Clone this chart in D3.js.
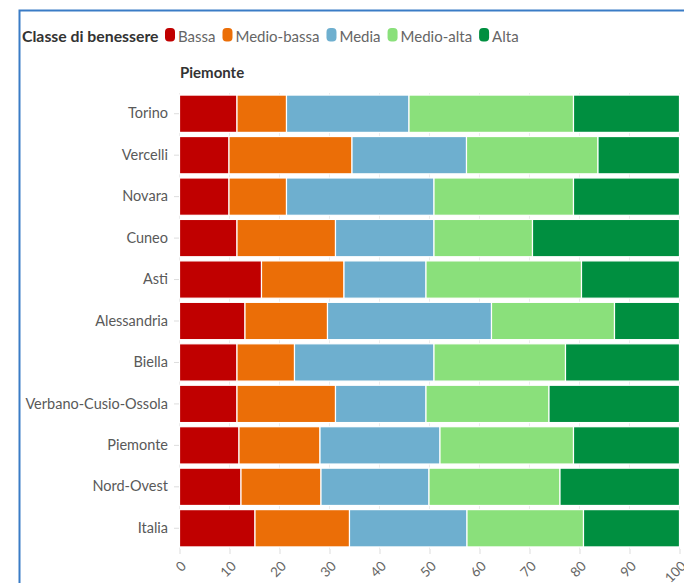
<!doctype html>
<html>
<head>
<meta charset="utf-8">
<script src="https://cdn.jsdelivr.net/npm/d3@7/dist/d3.min.js"></script>
<style>
  body { margin: 0; background: #fff; }
  svg { display: block; font-family: "Lato", "Noto Sans", sans-serif; }
</style>
</head>
<body>
<div id="viz"></div>
<script>
// data (percent of households per wellbeing class)
const categories = ["Torino", "Vercelli", "Novara", "Cuneo", "Asti", "Alessandria", "Biella",
  "Verbano-Cusio-Ossola", "Piemonte", "Nord-Ovest", "Italia"];
const classes = ["Bassa", "Medio-bassa", "Media", "Medio-alta", "Alta"];
const bassa      = [11.5,  9.9,  9.9, 11.5, 16.4, 13.1, 11.5, 11.5, 11.9, 12.3, 15.1];
const medioBassa = [ 9.9, 24.6, 11.5, 19.7, 16.5, 16.5, 11.5, 19.7, 16.2, 16.0, 18.9];
const media      = [24.5, 22.9, 29.5, 19.7, 16.4, 32.8, 27.9, 18.1, 24.0, 21.6, 23.5];
const medioAlta  = [32.9, 26.3, 27.9, 19.7, 31.1, 24.6, 26.3, 24.6, 26.7, 26.2, 23.3];
const alta       = [21.2, 16.3, 21.2, 29.4, 19.6, 13.0, 22.8, 26.1, 21.2, 23.9, 19.2];
const xTicks = [0, 10, 20, 30, 40, 50, 60, 70, 80, 90, 100];
const colors = ["#c00000", "#eb6e07", "#6eafcf", "#8ae07b", "#008f40"];

const width = 684, height = 583;
const svg = d3.select("#viz").append("svg")
  .attr("width", width).attr("height", height);

// frame lines
svg.append("path")
  .attr("d", "M19.5,583V10.5H684")
  .attr("fill", "none")
  .attr("stroke", "#3a7cc6")
  .attr("stroke-width", 2);

const series = [bassa, medioBassa, media, medioAlta, alta];
const rows = categories.map((c, i) => {
  const r = { name: c };
  classes.forEach((k, j) => r[k] = series[j][i]);
  return r;
});
const stack = d3.stack().keys(classes)(rows);

const x = d3.scaleLinear().domain([0, 100]).range([179.5, 679.5]);
const y = d3.scaleBand().domain(categories).range([93, 549])
  .paddingInner(0.1).paddingOuter(0.05);
const color = d3.scaleOrdinal().domain(classes).range(colors);

// grid
svg.append("g").selectAll("line")
  .data(xTicks).enter().append("line")
  .attr("x1", d => x(d)).attr("x2", d => x(d))
  .attr("y1", 93).attr("y2", 549)
  .attr("stroke", "#ececec");

// bars
svg.append("g").selectAll("g")
  .data(stack).enter().append("g")
  .attr("fill", d => color(d.key))
  .selectAll("rect")
  .data(d => d).enter().append("rect")
  .attr("x", d => x(d[0]))
  .attr("y", d => y(d.data.name))
  .attr("width", d => x(d[1]) - x(d[0]))
  .attr("height", y.bandwidth())
  .attr("stroke", "#fff")
  .attr("stroke-width", 1.2);

// y axis
const yAxis = svg.append("g").attr("transform", "translate(179,0)")
  .call(d3.axisLeft(y).tickSize(5).tickPadding(6));
yAxis.select(".domain").remove();
yAxis.selectAll("line").attr("stroke", "#ddd");
yAxis.selectAll("text").attr("fill", "#595959").style("font-size", "14.5px")
  .style("font-family", "Lato, sans-serif");

// x axis
const xAxis = svg.append("g").attr("transform", "translate(0,549)")
  .call(d3.axisBottom(x).tickValues(xTicks).tickSize(5));
xAxis.select(".domain").remove();
xAxis.selectAll("line").attr("stroke", "#ddd");
xAxis.selectAll("text")
  .attr("fill", "#666")
  .style("font-size", "13.5px")
  .style("font-family", "Lato, sans-serif")
  .attr("text-anchor", "end")
  .attr("dy", null)
  .attr("y", null)
  .attr("transform", "translate(7,18) rotate(-45)");

// title
svg.append("text")
  .attr("x", 180).attr("y", 78)
  .attr("fill", "#333")
  .style("font-size", "15px").style("font-weight", "bold")
  .text("Piemonte");

// legend
const legend = svg.append("g").attr("transform", "translate(22,42)");
legend.append("text")
  .attr("fill", "#333")
  .style("font-size", "15.8px").style("font-weight", "bold")
  .text("Classe di benessere");
let lx = 143;
classes.forEach((k, i) => {
  legend.append("rect")
    .attr("x", lx).attr("y", -14)
    .attr("width", 10).attr("height", 13.5)
    .attr("rx", 4)
    .attr("fill", colors[i]);
  const t = legend.append("text")
    .attr("x", lx + 13)
    .attr("fill", "#666")
    .style("font-size", "15px")
    .text(k);
  lx += 13 + t.node().getComputedTextLength() + 7;
});
</script>
</body>
</html>
